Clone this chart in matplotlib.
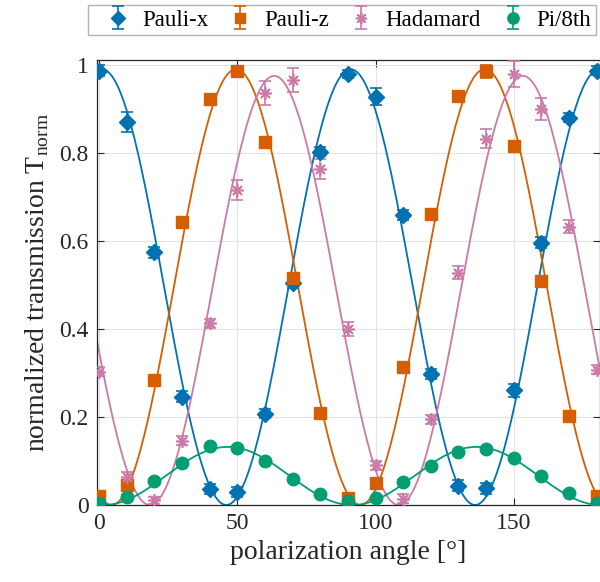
import matplotlib
matplotlib.use('Agg')
import matplotlib.pyplot as plt
import numpy as np

plt.rcParams['font.family'] = ['Liberation Serif', 'DejaVu Serif']
plt.rcParams['mathtext.fontset'] = 'custom'
plt.rcParams['mathtext.rm'] = 'Liberation Serif'

# measured polarization angles
angle = np.arange(0, 181, 10)

# normalized transmission
pauli_x = [0.987, 0.870, 0.574, 0.246, 0.036, 0.030, 0.207, 0.504, 0.803, 0.979,
           0.928, 0.659, 0.298, 0.044, 0.038, 0.261, 0.596, 0.880, 0.987]
pauli_x_err = [0.012, 0.022, 0.012, 0.012, 0.012, 0.012, 0.010, 0.010, 0.010, 0.010,
               0.020, 0.012, 0.012, 0.012, 0.012, 0.015, 0.012, 0.010, 0.010]

pauli_z = [0.020, 0.045, 0.285, 0.642, 0.922, 0.985, 0.825, 0.515, 0.210, 0.017,
           0.050, 0.314, 0.662, 0.930, 0.985, 0.815, 0.510, 0.202, 0.020]
pauli_z_err = [0.008, 0.008, 0.008, 0.008, 0.008, 0.010, 0.008, 0.008, 0.008, 0.008,
               0.008, 0.008, 0.008, 0.008, 0.015, 0.008, 0.008, 0.008, 0.008]

hadamard = [0.303, 0.064, 0.011, 0.146, 0.413, 0.716, 0.936, 0.966, 0.763, 0.400,
            0.090, 0.014, 0.195, 0.528, 0.832, 0.979, 0.900, 0.632, 0.307]
hadamard_err = [0.010, 0.010, 0.008, 0.010, 0.010, 0.022, 0.027, 0.027, 0.023, 0.015,
                0.010, 0.010, 0.010, 0.015, 0.022, 0.030, 0.025, 0.015, 0.010]

pi8 = [0.004, 0.019, 0.055, 0.096, 0.133, 0.129, 0.100, 0.058, 0.024, 0.010,
       0.015, 0.052, 0.089, 0.121, 0.127, 0.107, 0.067, 0.027, 0.004]
pi8_err = [0.004] * 19

# fit parameters: amplitude, angle of maximum [deg]
fit_x = (0.99, 1.0)
fit_z = (0.99, 49.5)
fit_h = (0.975, 63.3)
fit_p = (0.132, 46.5)

c_blue = '#0072B2'
c_orange = '#D55E00'
c_pink = '#CC79A7'
c_green = '#009E73'


def cos2(theta, amp, peak):
    return amp * np.cos(np.deg2rad(2 * (theta - peak)))**2


fig = plt.figure(figsize=(6.0, 5.82), dpi=100)
ax = fig.add_axes([97 / 600, 77 / 582, 503 / 600, 445 / 582])

th = np.linspace(-1, 181, 600)
ax.plot(th, cos2(th, *fit_x), color=c_blue, lw=1.3, zorder=2)
ax.plot(th, cos2(th, *fit_z), color=c_orange, lw=1.3, zorder=2)
ax.plot(th, cos2(th, *fit_h), color=c_pink, lw=1.3, zorder=2)
ax.plot(th, cos2(th, *fit_p), color=c_green, lw=1.3, zorder=2)

kw = dict(linestyle='none', capsize=4, elinewidth=1.2, capthick=1.2, zorder=3, clip_on=True)
h1 = ax.errorbar(angle, pauli_x, yerr=pauli_x_err, marker='D', ms=8, color=c_blue,
                 label='Pauli-x', **kw)
h2 = ax.errorbar(angle, pauli_z, yerr=pauli_z_err, marker='s', ms=8, color=c_orange,
                 label='Pauli-z', **kw)
h3 = ax.errorbar(angle, hadamard, yerr=hadamard_err, marker=(8, 2, 0), ms=9, mew=1.2,
                 color=c_pink, label='Hadamard', **kw)
h4 = ax.errorbar(angle, pi8, yerr=pi8_err, marker='o', ms=9, color=c_green,
                 label='Pi/8th', **kw)

ax.set_xlim(-0.8, 181.2)
ax.set_ylim(0, 1.011)
ax.set_xticks([0, 50, 100, 150])
ax.set_yticks([0, 0.2, 0.4, 0.6, 0.8, 1])
ax.set_yticklabels(['0', '0.2', '0.4', '0.6', '0.8', '1'])
ax.tick_params(direction='in', length=5, width=0.8, labelsize=17, colors='#262626',
               top=True, right=True, pad=6)
for s in ax.spines.values():
    s.set_color('#262626')
    s.set_linewidth(0.9)
ax.grid(True, color='#e3e3e3', lw=0.8)
ax.set_axisbelow(True)

ax.set_xlabel('polarization angle [°]', fontsize=20, color='#262626', labelpad=4)
ax.set_ylabel(r'normalized transmission T$_{\mathrm{norm}}$', fontsize=20,
              color='#262626', labelpad=6)

leg = fig.legend(handles=[h1, h2, h3, h4], loc='upper left', ncol=4,
                 bbox_to_anchor=(88 / 600, 1 - 5 / 582), fontsize=16.5,
                 frameon=True, fancybox=False, edgecolor='#a0a0a0',
                 handlelength=2.2, handletextpad=-0.05, columnspacing=0.3,
                 borderpad=0.2, borderaxespad=0, markerscale=0.9)
leg.get_frame().set_linewidth(1.0)

fig.savefig('out.png', dpi=100)
